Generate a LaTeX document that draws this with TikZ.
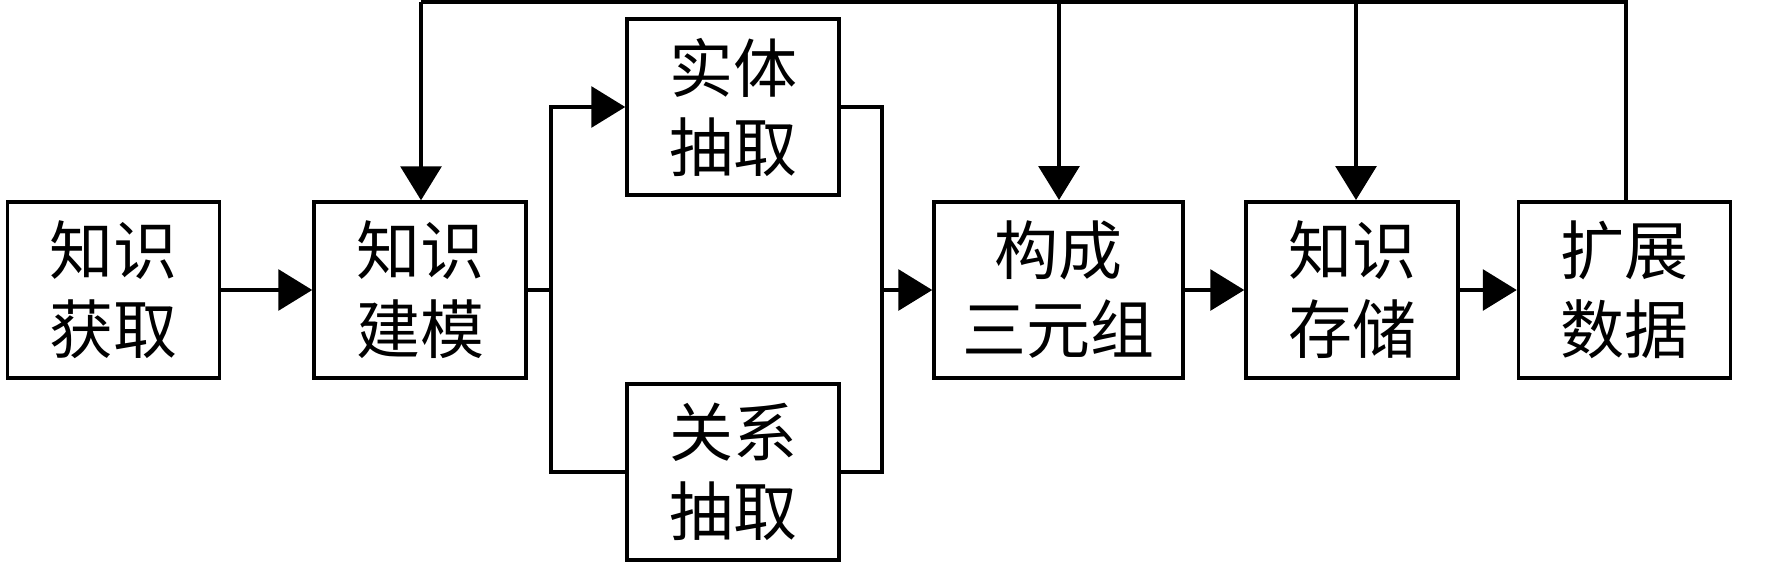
\documentclass[tikz,border=0pt]{standalone}
\usepackage{fontspec}
\setmainfont{Noto Sans CJK SC}
\usetikzlibrary{arrows.meta}
\begin{document}
\begin{tikzpicture}[x=1pt,y=-1pt,
  box/.style={draw, line width=3.5pt, inner sep=0pt, minimum width=212pt, minimum height=176pt,
    align=center, font=\fontsize{64pt}{79pt}\selectfont},
  conn/.style={line width=3.2pt},
  arr/.style={conn, -{Triangle[length=34pt,width=41pt]}}]
\useasboundingbox (0,0) rectangle (1772,565);
\node[box] (acq) at (113.5,290) {知识\\获取};
\node[box] (mod) at (420,290) {知识\\建模};
\node[box] (ent) at (733,107) {实体\\抽取};
\node[box] (rel) at (733,472) {关系\\抽取};
\node[box, minimum width=249pt] (tri) at (1058.5,290) {构成\\三元组};
\node[box] (sto) at (1352,290) {知识\\存储};
\node[box] (ext) at (1624.5,290) {扩展\\数据};
\coordinate (split) at (551,290);
\coordinate (merge) at (882,290);
\coordinate (topL) at (421,2);
\coordinate (topR) at (1626,2);
\draw[arr] (acq.east) -- (mod.west);
\draw[conn] (mod.east) -- (split);
\draw[arr] (split) |- (ent.west);
\draw[conn] (split) |- (rel.west);
\draw[conn] (ent.east) -| (merge) |- (rel.east);
\draw[arr] (merge) -- (tri.west);
\draw[arr] (tri.east) -- (sto.west);
\draw[arr] (sto.east) -- (ext.west);
\draw[conn, line width=3.5pt] (ext.north -| topR) -- (topR) -- (topL);
\draw[arr] (topL) -- (topL |- mod.north);
\draw[arr] (1059,2) -- (1059,200);
\draw[arr] (1356,2) -- (1356,200);
\end{tikzpicture}
\end{document}
